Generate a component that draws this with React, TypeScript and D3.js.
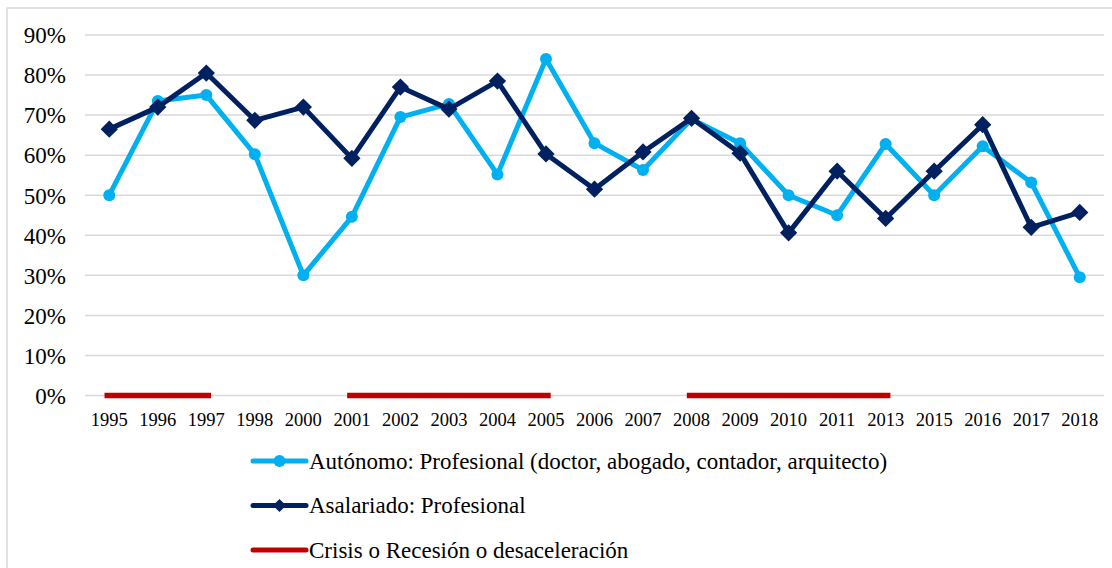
import { useEffect, useRef } from 'react';
import * as d3 from 'd3';

// categorías del eje X
const years = ['1995', '1996', '1997', '1998', '2000', '2001', '2002', '2003', '2004', '2005',
  '2006', '2007', '2008', '2009', '2010', '2011', '2013', '2015', '2016', '2017', '2018'];

// series (%)
const autonomo = [50, 73.5, 75, 60.2, 30, 44.6, 69.5, 72.8, 55.2, 84, 63, 56.3, 69, 63, 50, 45, 62.8, 50, 62.2, 53.2, 29.5];
const asalariado = [66.5, 72, 80.5, 68.7, 72, 59.2, 77, 71.5, 78.5, 60.3, 51.5, 60.8, 69.2, 60.5, 40.6, 56, 44.2, 56, 67.6, 42, 45.7];

// periodos de crisis (años inicio-fin)
const crisisPeriods: [string, string][] = [['1995', '1997'], ['2001', '2005'], ['2008', '2013']];

const yTicks = [0, 10, 20, 30, 40, 50, 60, 70, 80, 90];

const legendLabels = [
  'Autónomo: Profesional (doctor, abogado, contador, arquitecto)',
  'Asalariado: Profesional',
  'Crisis o Recesión o desaceleración',
];

const LIGHT = '#00B0F0';
const NAVY = '#002060';
const RED = '#C00000';
const FONT = "'Liberation Serif', 'Times New Roman', Times, 'DejaVu Serif', serif";

export default function App() {
  const ref = useRef<SVGSVGElement | null>(null);

  useEffect(() => {
    if (!ref.current) return;
    const svg = d3.select(ref.current);
    svg.selectAll('*').remove();

    const W = 1112, H = 568;
    const margin = { left: 85, right: 8, top: 35, bottom: 172.5 };
    const innerW = W - margin.left - margin.right;
    const innerH = H - margin.top - margin.bottom;

    // borde del gráfico
    svg.append('rect')
      .attr('x', 7).attr('y', 8)
      .attr('width', W + 20).attr('height', H + 20)
      .attr('fill', 'white').attr('stroke', '#d9d9d9').attr('stroke-width', 1.5);

    const x = d3.scaleBand().domain(years).range([0, innerW]);
    const xc = (d: string) => (x(d) as number) + x.bandwidth() / 2;
    const y = d3.scaleLinear().domain([0, 90]).range([innerH, 0]);

    const g = svg.append('g').attr('transform', `translate(${margin.left},${margin.top})`)
      .attr('font-family', FONT);

    // líneas de cuadrícula
    g.append('g').selectAll('line').data(yTicks).enter().append('line')
      .attr('x1', 0).attr('x2', innerW)
      .attr('y1', d => y(d)).attr('y2', d => y(d))
      .attr('stroke', '#d9d9d9').attr('stroke-width', 1.5);

    // etiquetas eje Y
    g.append('g').selectAll('text').data(yTicks).enter().append('text')
      .attr('x', -19).attr('y', d => y(d)).attr('dy', '0.36em')
      .attr('text-anchor', 'end')
      .attr('font-family', FONT).attr('font-size', 23).attr('fill', '#000')
      .text(d => `${d}%`);

    // etiquetas eje X
    g.append('g').selectAll('text').data(years).enter().append('text')
      .attr('x', d => xc(d)).attr('y', innerH + 30)
      .attr('text-anchor', 'middle')
      .attr('font-family', FONT).attr('font-size', 18.5).attr('fill', '#000')
      .text(d => d);

    const line = d3.line<number>()
      .x((_, i) => xc(years[i]))
      .y(d => y(d));

    // Autónomo
    g.append('path').datum(autonomo)
      .attr('d', line).attr('fill', 'none')
      .attr('stroke', LIGHT).attr('stroke-width', 5).attr('stroke-linejoin', 'round');
    g.append('g').selectAll('circle').data(autonomo).enter().append('circle')
      .attr('cx', (_, i) => xc(years[i])).attr('cy', d => y(d)).attr('r', 6)
      .attr('fill', LIGHT);

    // Asalariado
    g.append('path').datum(asalariado)
      .attr('d', line).attr('fill', 'none')
      .attr('stroke', NAVY).attr('stroke-width', 5).attr('stroke-linejoin', 'round');
    const diamond = d3.symbol().type(d3.symbolDiamond2).size(190);
    g.append('g').selectAll('path').data(asalariado).enter().append('path')
      .attr('d', diamond)
      .attr('transform', (d, i) => `translate(${xc(years[i])},${y(d)})`)
      .attr('fill', NAVY);

    // Crisis
    g.append('g').selectAll('line').data(crisisPeriods).enter().append('line')
      .attr('x1', d => xc(d[0]) - 2).attr('x2', d => xc(d[1]) + 2)
      .attr('y1', y(0)).attr('y2', y(0))
      .attr('stroke', RED).attr('stroke-width', 5.5).attr('stroke-linecap', 'square');

    // leyenda
    const legend = svg.append('g').attr('transform', 'translate(253, 461)');
    legendLabels.forEach((label, i) => {
      const row = legend.append('g').attr('transform', `translate(0, ${i * 44.5})`);
      const color = [LIGHT, NAVY, RED][i];
      row.append('line').attr('x1', 0).attr('x2', 53).attr('y1', 0).attr('y2', 0)
        .attr('stroke', color).attr('stroke-width', 5).attr('stroke-linecap', 'round');
      if (i === 0) row.append('circle').attr('cx', 26.5).attr('cy', 0).attr('r', 6).attr('fill', color);
      if (i === 1) row.append('path').attr('d', d3.symbol().type(d3.symbolDiamond2).size(110)).attr('transform', 'translate(26.5,0)').attr('fill', color);
      row.append('text').attr('x', 56).attr('y', 0).attr('dy', '0.33em')
        .attr('font-family', FONT).attr('font-size', 23).attr('fill', '#000')
        .text(label);
    });
  }, []);

  return <svg ref={ref} width={1112} height={568} style={{ position: 'absolute', left: 0, top: 0, display: 'block' }} />;
}
